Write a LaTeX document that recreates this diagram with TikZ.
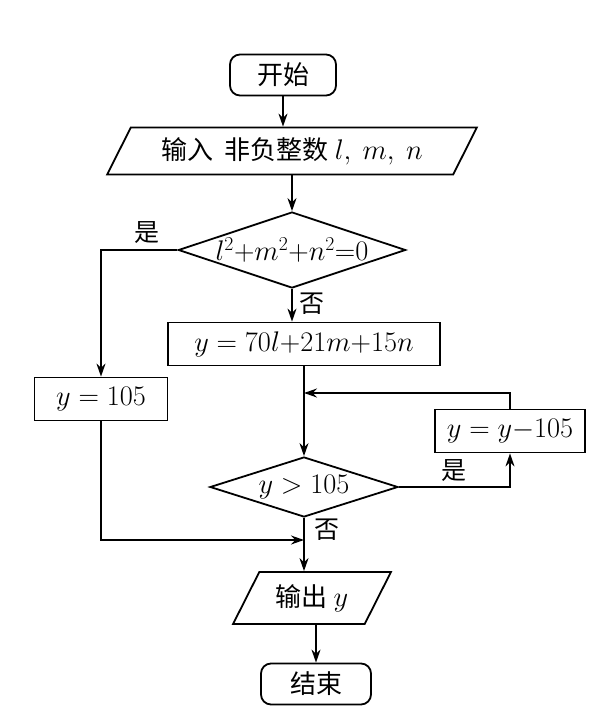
\documentclass[tikz,border=0pt]{standalone}
\usepackage{fontspec}
\usepackage{graphicx}
\newfontfamily\cjk{Noto Sans CJK SC}
\usetikzlibrary{arrows.meta,shapes.geometric,calc}

\newcommand{\chartmath}[1]{\scalebox{1.14}{$#1$}}

\tikzset{
    chart/.style={draw, line width=1.8pt, font=\fontsize{26}{30}\selectfont\cjk},
    terminal/.style={chart, rounded corners=10pt, minimum height=41pt},
    iobox/.style={chart, trapezium, trapezium left angle=60,
        trapezium right angle=120, trapezium stretches=true},
    decision/.style={chart, diamond, aspect=3, inner sep=0pt},
    process/.style={chart, rectangle, minimum height=43pt},
    flow/.style={line width=1.8pt, -{Stealth[length=13pt,width=9pt]}},
    plain/.style={line width=1.8pt},
    tag/.style={font=\fontsize{25}{29}\selectfont\cjk}
}

\begin{document}
\begin{tikzpicture}[x=1pt, y=-1pt]

        \useasboundingbox (0,0) rectangle (612,716);

        % Start
        \node[terminal, minimum width=106pt] (Start) at (283,75) {开始};

        % Input
        \node[iobox, minimum width=370pt, minimum height=47pt] (Input) at (292,151)
            {输入\ \ 非负整数\ \chartmath{l,\ m,\ n}};

        % Check sum of squares
        \node[decision, minimum width=226pt, minimum height=76pt] (Check-1) at (292,250)
            {\chartmath{l^2{+}m^2{+}n^2{=}0}};

        % Compute y
        \node[process, minimum width=272pt] (Calc) at (304,344)
            {\chartmath{y=70l{+}21m{+}15n}};

        % y = 105
        \node[process, minimum width=133pt] (Set) at (101,399) {\chartmath{y=105}};

        % Loop body
        \node[process, minimum width=150pt] (Sub) at (510,431) {\chartmath{y=y{-}105}};

        % Check y
        \node[decision, minimum width=188pt, minimum height=60pt] (Check-2) at (304,487)
            {\chartmath{y>105}};

        % Output
        \node[iobox, minimum width=158pt, minimum height=52pt] (Output) at (312,598)
            {输出\ \chartmath{y}};

        % End
        \node[terminal, minimum width=110pt] (End) at (316,684) {结束};

        % Joints
        \coordinate (Join) at (304,393);
        \coordinate (Merge) at (304,540);

        % Main column
        \draw[flow] (Start) -- (Start |- Input.north);
        \draw[flow] (Input.south -| Check-1) -- (Check-1.north);
        \draw[flow] (Check-1.south) -- (Check-1.south |- Calc.north)
            node[tag, pos=0.45, right=3pt]{否};
        \draw[plain] (Calc.south) -- (Join);
        \draw[flow] (Join) -- (Check-2.north);
        \draw[plain] (Check-2.south) -- (Merge)
            node[tag, pos=0.55, right=6pt]{否};
        \draw[flow] (Merge) -- (Merge |- Output.north);
        \draw[flow] (Output.south -| End) -- (End.north);

        % Yes branches
        \draw[flow] (Check-1.west) -- (Set.north |- Check-1.west)
            node[tag, pos=0.4, above=2pt]{是} -- (Set.north);
        \draw[flow] (Set.south) |- (Merge);
        \draw[flow] (Check-2.east) -| (Sub.south)
            node[tag, pos=0.25, above=1pt]{是};
        \draw[flow] (Sub.north) |- (Join);

\end{tikzpicture}
\end{document}
